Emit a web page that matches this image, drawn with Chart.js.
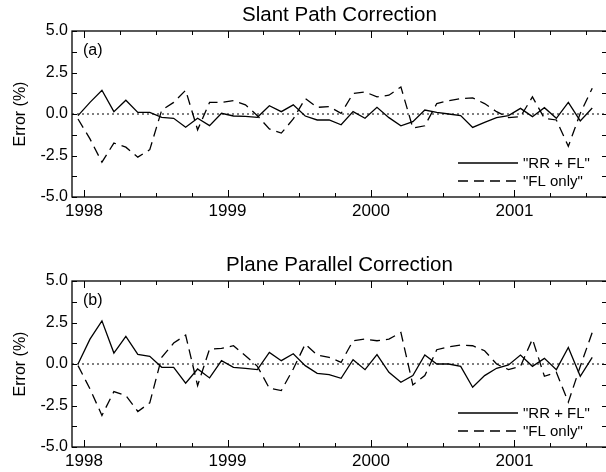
<!DOCTYPE html>
<html>
<head>
<meta charset="utf-8">
<script src="https://cdn.jsdelivr.net/npm/chart.js@4/dist/chart.umd.min.js"></script>
<style>
  html, body { margin: 0; padding: 0; background: #fff; overflow: hidden; width: 606px; height: 472px; }
  canvas { display: block; }
</style>
</head>
<body>
<canvas id="slant" width="608" height="250"></canvas>
<canvas id="plane" width="608" height="222"></canvas>
<script>
// monthly samples, Dec 1997 .. Jul 2001
const months = [
  '1997-12',
  '1998-01', '1998-02', '1998-03', '1998-04', '1998-05', '1998-06',
  '1998-07', '1998-08', '1998-09', '1998-10', '1998-11', '1998-12',
  '1999-01', '1999-02', '1999-03', '1999-04', '1999-05', '1999-06',
  '1999-07', '1999-08', '1999-09', '1999-10', '1999-11', '1999-12',
  '2000-01', '2000-02', '2000-03', '2000-04', '2000-05', '2000-06',
  '2000-07', '2000-08', '2000-09', '2000-10', '2000-11', '2000-12',
  '2001-01', '2001-02', '2001-03', '2001-04', '2001-05', '2001-06', '2001-07'
];

// (a) Slant Path Correction
const slantRRFL = [
  -0.1,
  0.7, 1.43, 0.14, 0.83, 0.1, 0.1,
  -0.2, -0.26, -0.8, -0.26, -0.7, 0.04,
  -0.12, -0.14, -0.2, 0.5, 0.14, 0.55,
  -0.12, -0.36, -0.36, -0.65, 0.14, -0.26,
  0.4, -0.22, -0.71, -0.46, 0.24, 0.1,
  0.0, -0.1, -0.81, -0.5, -0.22, -0.1,
  0.34, -0.16, 0.38, -0.26, 0.7, -0.42, 0.36
];
const slantFL = [
  -0.3,
  -1.5, -2.9, -1.75, -2.0, -2.6, -2.15,
  0.24, 0.7, 1.43, -0.95, 0.7, 0.7,
  0.8, 0.55, -0.1, -0.9, -1.15, -0.3,
  0.93, 0.4, 0.45, 0.04, 1.23, 1.33,
  1.03, 1.13, 1.63, -0.85, -0.71, 0.63,
  0.8, 0.93, 0.97, 0.63, 0.14, -0.22,
  -0.16, 1.03, -0.26, -0.36, -1.95, 0.04, 1.55
];

// (b) Plane Parallel Correction
const planeRRFL = [
  0.0,
  1.5, 2.6, 0.66, 1.66, 0.58, 0.46,
  -0.2, -0.2, -1.16, -0.3, -0.84, 0.2,
  -0.2, -0.26, -0.34, 0.7, 0.2, 0.62,
  -0.1, -0.56, -0.64, -0.86, 0.26, -0.34,
  0.56, -0.5, -1.1, -0.7, 0.54, 0.0,
  0.0, -0.14, -1.4, -0.7, -0.26, -0.06,
  0.54, -0.14, 0.34, -0.34, 1.0, -0.74, 0.4
];
const planeFL = [
  -0.1,
  -1.5, -3.1, -1.66, -1.9, -2.86, -2.34,
  0.4, 1.26, 1.74, -1.3, 0.9, 0.94,
  1.1, 0.5, -0.14, -1.46, -1.6, -0.3,
  1.2, 0.54, 0.4, 0.1, 1.4, 1.5,
  1.4, 1.5, 1.9, -1.26, -0.7, 0.86,
  1.04, 1.14, 1.1, 0.8, 0.0, -0.34,
  -0.14, 1.5, -0.74, -0.5, -2.3, -0.14, 1.9
];

const yearTicks = [1998, 1999, 2000, 2001];
const errorTicks = [-5, -2.5, 0, 2.5, 5];
const seriesLabels = ['"RR + FL"', '"FL only"'];

const FONT = 'Helvetica, Arial, "Liberation Sans", sans-serif';

// month string -> decimal year at mid-month
function toYear(m) {
  const [yr, mo] = m.split('-').map(Number);
  return yr + (mo - 0.5) / 12;
}

function toPoints(values) {
  return values.map((v, i) => ({ x: toYear(months[i]), y: v }));
}

// frame, inward ticks, dotted zero line, panel tag and legend
const framePlugin = {
  id: 'frame',
  beforeDatasetsDraw(chart) {
    const { ctx, chartArea: a, scales: { y } } = chart;
    const y0 = y.getPixelForValue(0);
    ctx.save();
    ctx.strokeStyle = '#000';
    ctx.lineWidth = 1.2;
    ctx.setLineDash([2, 3]);
    ctx.beginPath();
    ctx.moveTo(a.left, y0);
    ctx.lineTo(a.right, y0);
    ctx.stroke();
    ctx.restore();
  },
  afterDraw(chart, args, opts) {
    const { ctx, chartArea: a, scales: { x, y } } = chart;
    ctx.save();
    ctx.strokeStyle = '#000';
    ctx.fillStyle = '#000';
    ctx.lineWidth = 1.3;
    ctx.strokeRect(a.left, a.top, a.right - a.left, a.bottom - a.top);

    ctx.lineWidth = 1;
    ctx.beginPath();
    for (let q = yearTicks[0]; q <= x.max; q += 0.25) {
      const px = Math.round(x.getPixelForValue(q)) + 0.5;
      const len = yearTicks.includes(q) ? 7 : 4;
      ctx.moveTo(px, a.bottom); ctx.lineTo(px, a.bottom - len);
      ctx.moveTo(px, a.top); ctx.lineTo(px, a.top + len);
    }
    for (let v = y.min; v <= y.max; v += 1.25) {
      const py = Math.round(y.getPixelForValue(v)) + 0.5;
      ctx.moveTo(a.left, py); ctx.lineTo(a.left + 5, py);
      ctx.moveTo(a.right, py); ctx.lineTo(a.right - 5, py);
    }
    ctx.stroke();

    ctx.font = '16px ' + FONT;
    ctx.textBaseline = 'middle';
    ctx.textAlign = 'left';
    ctx.fillText(opts.tag, a.left + 11, a.top + 20);

    ctx.font = '15px ' + FONT;
    chart.data.datasets.forEach((ds, i) => {
      const ly = a.top + 132 + i * 18;
      ctx.lineWidth = 1.3;
      ctx.setLineDash(ds.borderDash || []);
      ctx.beginPath();
      ctx.moveTo(a.right - 149, ly);
      ctx.lineTo(a.right - 89, ly);
      ctx.stroke();
      ctx.setLineDash([]);
      ctx.fillText(ds.label, a.right - 84, ly + 1);
    });
    ctx.restore();
  }
};

function makePanel(id, title, tag, rrfl, fl) {
  const canvas = document.getElementById(id);
  const ctx = canvas.getContext('2d');
  const xHeight = canvas.height - 197;
  return new Chart(ctx, {
    type: 'line',
    data: {
      datasets: [
        {
          label: seriesLabels[0],
          data: toPoints(rrfl),
          borderColor: '#000',
          borderWidth: 1.3,
          pointRadius: 0,
          tension: 0,
          fill: false
        },
        {
          label: seriesLabels[1],
          data: toPoints(fl),
          borderColor: '#000',
          borderWidth: 1.3,
          borderDash: [10, 6],
          pointRadius: 0,
          tension: 0,
          fill: false
        }
      ]
    },
    options: {
      responsive: false,
      animation: false,
      devicePixelRatio: 1,
      layout: { padding: { left: 0, right: 1, top: 0, bottom: 0 } },
      plugins: {
        legend: { display: false },
        tooltip: { enabled: false },
        title: {
          display: true,
          text: title,
          fullSize: false,
          color: '#000',
          font: { family: FONT, size: 20.5, weight: 'normal' },
          padding: { top: 3, bottom: 3.4 }
        },
        frame: { tag: tag }
      },
      scales: {
        x: {
          type: 'linear',
          min: 1998 - 12 / 143.5,
          max: 1998 + 523 / 143.5,
          grid: { display: false, drawTicks: false },
          border: { display: false },
          afterBuildTicks: s => { s.ticks = yearTicks.map(v => ({ value: v })); },
          afterFit: s => { s.height = xHeight; },
          ticks: {
            color: '#000',
            padding: 4,
            maxRotation: 0,
            autoSkip: false,
            font: { family: FONT, size: 17 },
            callback: v => String(v)
          }
        },
        y: {
          min: -5,
          max: 5,
          grid: { display: false, drawTicks: false },
          border: { display: false },
          afterBuildTicks: s => { s.ticks = errorTicks.map(v => ({ value: v })); },
          afterFit: s => { s.width = 72; },
          ticks: {
            color: '#000',
            padding: 4,
            font: { family: FONT, size: 16 },
            callback: v => v.toFixed(1)
          },
          title: {
            display: true,
            text: 'Error (%)',
            color: '#000',
            font: { family: FONT, size: 16 },
            padding: { top: 11, bottom: 0 }
          }
        }
      }
    },
    plugins: [framePlugin]
  });
}

makePanel('slant', 'Slant Path Correction', '(a)', slantRRFL, slantFL);
makePanel('plane', 'Plane Parallel Correction', '(b)', planeRRFL, planeFL);
</script>
</body>
</html>
